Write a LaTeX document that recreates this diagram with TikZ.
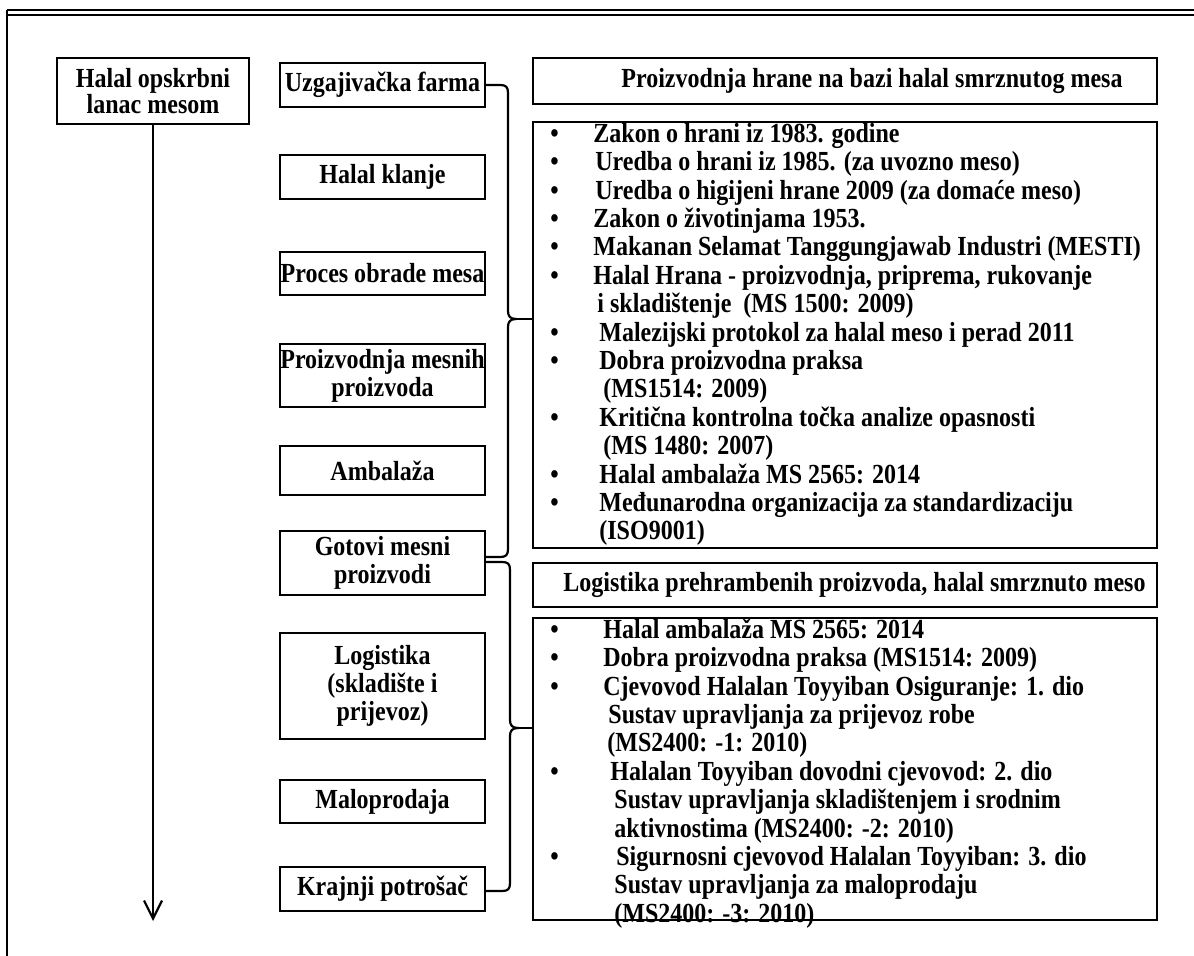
\documentclass[tikz,border=0pt]{standalone}
\usepackage{fontspec}
\setmainfont{Liberation Serif}[FakeStretch=0.87]
\usetikzlibrary{arrows.meta}
\begin{document}
\begin{tikzpicture}[x=0.5pt,y=-0.5pt,
  every node/.style={font=\fontsize{13.8}{14.2}\selectfont\bfseries},
  box/.style={draw, line width=1pt, inner sep=0pt, align=center},
  twoline/.style={font=\fontsize{13.8}{14}\selectfont\bfseries},
  conn/.style={line width=1.1pt},
  frameline/.style={line width=0.9pt},
  listtext/.style={inner sep=0pt, anchor=north west},
  headtext/.style={inner sep=0pt, anchor=west}
]
\useasboundingbox (0,0) rectangle (1194,956);
\fill[white] (0,0) rectangle (1194,956);

% frame
\draw[frameline] (7,10) -- (1194,10);
\draw[frameline] (7,15) -- (1194,15);
\draw[frameline] (7,10) -- (7,956);

% left box and arrow
\node[box, minimum width=96pt, minimum height=33pt, font=\fontsize{13.8}{13}\selectfont\bfseries] (L) at (153,91) {Halal opskrbni\\lanac mesom};
\coordinate (aend) at (153,921);
\draw[conn, -{Straight Barb[length=9pt,width=9pt]}] (L.south) -- (aend);

% middle column
\node[box, minimum width=102.5pt, minimum height=22pt] (b1) at (382.5,85) {Uzgajivačka farma};
\node[box, minimum width=102.5pt, minimum height=22pt] (b2) at (382.5,177) {Halal klanje};
\node[box, minimum width=102.5pt, minimum height=21.5pt] (b3) at (382.5,273.5) {Proces obrade mesa};
\node[box, twoline, minimum width=102.5pt, minimum height=31.5pt] (b4) at (382.5,375.5) {Proizvodnja mesnih\\proizvoda};
\node[box, minimum width=102.5pt, minimum height=24.5pt] (b5) at (382.5,470.5) {Ambalaža};
\node[box, twoline, minimum width=102.5pt, minimum height=32pt] (b6) at (382.5,563) {Gotovi mesni\\proizvodi};
\node[box, twoline, minimum width=102.5pt, minimum height=53pt] (b7) at (382.5,686) {Logistika\\(skladište i\\prijevoz)};
\node[box, minimum width=102.5pt, minimum height=21.5pt] (b8) at (382.5,801.5) {Maloprodaja};
\node[box, minimum width=102.5pt, minimum height=22pt] (b9) at (382.5,889) {Krajnji potrošač};

% right column boxes
\node[box, minimum width=312pt, minimum height=23pt] (r1) at (845,81) {};
\node[headtext] (r1t) at (621,81) {Proizvodnja hrane na bazi halal smrznutog mesa};
\node[box, minimum width=312pt, minimum height=213pt] (r2) at (845,335) {};
\node[box, minimum width=312pt, minimum height=22pt] (r3) at (845,585) {};
\node[headtext] (r3t) at (563,585) {Logistika prehrambenih proizvoda, halal smrznuto meso};
\node[box, minimum width=312pt, minimum height=151pt] (r4) at (845,769) {};

\node[listtext] (r2t) at (550,122) {\begin{tabular}{@{}p{21.5pt}@{}l@{}}
•&Zakon o hrani iz 1983. godine\\
•&\hspace{1pt}Uredba o hrani iz 1985. (za uvozno meso)\\
•&\hspace{1pt}Uredba o higijeni hrane 2009 (za domaće meso)\\
•&Zakon o životinjama 1953.\\
•&Makanan Selamat Tanggungjawab Industri (MESTI)\\
•&Halal Hrana - proizvodnja, priprema, rukovanje\\
&\hspace{2pt}i skladištenje\ \ (MS 1500: 2009)\\
•&\hspace{3pt}Malezijski protokol za halal meso i perad 2011\\
•&\hspace{3pt}Dobra proizvodna praksa\\
&\hspace{5pt}(MS1514: 2009)\\
•&\hspace{3pt}Kritična kontrolna točka analize opasnosti\\
&\hspace{5pt}(MS 1480: 2007)\\
•&\hspace{3pt}Halal ambalaža MS 2565: 2014\\
•&\hspace{3pt}Međunarodna organizacija za standardizaciju\\
&\hspace{3pt}(ISO9001)
\end{tabular}};

\node[listtext] (r4t) at (550,618) {\begin{tabular}{@{}p{26.5pt}@{}l@{}}
•&Halal ambalaža MS 2565: 2014\\
•&Dobra proizvodna praksa (MS1514: 2009)\\
•&Cjevovod Halalan Toyyiban Osiguranje: 1. dio\\
&\hspace{2.5pt}Sustav upravljanja za prijevoz robe\\
&\hspace{2pt}(MS2400: -1: 2010)\\
•&\hspace{3.5pt}Halalan Toyyiban dovodni cjevovod: 2. dio\\
&\hspace{5.5pt}Sustav upravljanja skladištenjem i srodnim\\
&\hspace{5.5pt}aktivnostima (MS2400: -2: 2010)\\
•&\hspace{6.5pt}Sigurnosni cjevovod Halalan Toyyiban: 3. dio\\
&\hspace{5.5pt}Sustav upravljanja za maloprodaju\\
&\hspace{5.5pt}(MS2400: -3: 2010)
\end{tabular}};

% braces
\coordinate (t1) at (516,319);
\coordinate (t2) at (518,728);
\draw[conn] (b1.east) -- (500,85) .. controls (506,85) and (508,87) .. (508,93)
  -- (508,311) .. controls (508,316) and (510,319) .. (t1)
  .. controls (510,319) and (508,322) .. (508,327)
  -- (508,549) .. controls (508,555) and (506,557) .. (500,557) -- ([yshift=3pt]b6.east);
\draw[conn] (t1) -- (t1 -| r2.west);
\draw[conn] ([yshift=0.5pt]b6.east) -- (502,562) .. controls (508,562) and (510,564) .. (510,570)
  -- (510,720) .. controls (510,725) and (512,728) .. (t2)
  .. controls (512,728) and (510,731) .. (510,736)
  -- (510,883) .. controls (510,889) and (508,891) .. (502,891) -- ([yshift=-1pt]b9.east);
\draw[conn] (t2) -- (t2 -| r4.west);
\end{tikzpicture}
\end{document}
